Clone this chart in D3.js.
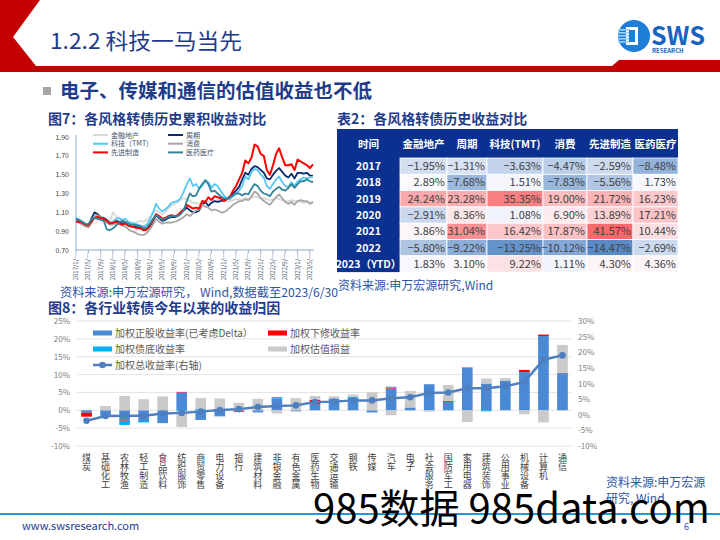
<!DOCTYPE html>
<html><head><meta charset="utf-8">
<script src="https://cdn.jsdelivr.net/npm/d3@7"></script>
<style>
body{margin:0;background:#fff}
svg{display:block}
text{font-family:"Noto Sans CJK SC","Noto Sans",sans-serif}
</style>
</head><body>
<svg id="c" width="720" height="540"></svg>
<script>
// ---------- Figure 7 data (monthly, 2017/1 .. 2023/6) ----------
const axisMonthLabels = ["2017/1/…","2017/5/…","2017/9/…","2018/1/…","2018/5/…","2018/9/…","2019/1/…","2019/5/…","2019/9/…","2020/1/…","2020/5/…","2020/9/…","2021/1/…","2021/5/…","2021/9/…","2022/1/…","2022/5/…","2022/9/…","2023/1/…","2023/5/…"];
const lineYTicks = [0.70,0.90,1.10,1.30,1.50,1.70,1.90];
const styleNames = ["金融地产","周期","科技（TMT）","消费","先进制造","医药医疗"];
const financeRE = [1.02,1.00,0.98,0.96,0.95,1.00,1.06,1.09,1.05,1.03,1.01,1.00,1.10,1.06,1.02,1.00,0.99,0.96,0.97,0.98,1.00,1.01,1.00,1.02,1.05,1.09,1.12,1.10,1.08,1.10,1.14,1.17,1.19,1.21,1.23,1.25,1.24,1.22,1.20,1.20,1.19,1.20,1.22,1.21,1.20,1.22,1.23,1.24,1.23,1.22,1.22,1.23,1.24,1.24,1.23,1.25,1.24,1.25,1.27,1.26,1.25,1.25,1.24,1.23,1.24,1.25,1.24,1.23,1.22,1.22,1.23,1.22,1.22,1.21,1.20,1.21,1.20,1.21];
const cyclical = [1.03,1.01,0.99,0.97,0.96,1.03,1.10,1.08,1.05,1.04,1.02,0.99,0.98,1.01,1.00,0.98,0.99,0.96,0.95,0.95,0.94,0.93,0.91,0.92,0.95,1.01,1.07,1.04,1.01,1.02,1.04,1.05,1.05,1.06,1.09,1.12,1.15,1.12,1.10,1.10,1.12,1.18,1.21,1.17,1.20,1.22,1.21,1.22,1.23,1.24,1.27,1.30,1.33,1.37,1.45,1.52,1.50,1.56,1.59,1.58,1.55,1.52,1.46,1.45,1.50,1.54,1.57,1.53,1.49,1.47,1.51,1.46,1.52,1.52,1.51,1.52,1.49,1.49];
const techTMT = [1.04,1.02,1.00,0.98,0.97,1.01,1.06,1.05,1.05,1.03,1.01,0.99,1.00,1.03,1.04,1.02,1.03,1.00,0.99,0.98,0.97,0.96,0.95,0.97,1.02,1.10,1.19,1.14,1.11,1.13,1.16,1.20,1.21,1.22,1.25,1.32,1.40,1.46,1.38,1.40,1.35,1.38,1.44,1.42,1.36,1.40,1.38,1.33,1.28,1.25,1.24,1.27,1.30,1.33,1.38,1.48,1.45,1.53,1.56,1.55,1.50,1.47,1.38,1.35,1.40,1.45,1.48,1.42,1.38,1.37,1.42,1.38,1.43,1.45,1.47,1.46,1.47,1.48];
const consumer = [1.01,0.99,0.97,0.95,0.94,0.99,1.05,1.07,1.04,1.01,0.99,0.97,0.97,0.99,0.98,0.96,0.95,0.92,0.90,0.89,0.87,0.86,0.86,0.88,0.92,0.97,1.03,1.00,0.98,0.99,0.99,0.99,1.00,1.01,1.03,1.05,1.08,1.06,1.09,1.12,1.13,1.18,1.16,1.15,1.12,1.13,1.12,1.10,1.10,1.12,1.15,1.18,1.20,1.22,1.22,1.24,1.23,1.27,1.32,1.30,1.25,1.22,1.20,1.18,1.22,1.26,1.29,1.25,1.21,1.19,1.21,1.18,1.22,1.23,1.22,1.22,1.19,1.21];
const advancedMfg = [1.00,1.00,0.99,0.97,0.96,1.00,1.04,1.05,1.04,1.03,1.01,0.98,0.99,1.00,0.98,0.97,0.98,0.96,0.95,0.94,0.93,0.93,0.91,0.92,0.96,1.02,1.08,1.06,1.03,1.04,1.06,1.07,1.06,1.07,1.10,1.13,1.18,1.16,1.14,1.15,1.14,1.22,1.21,1.26,1.23,1.27,1.26,1.25,1.22,1.24,1.26,1.33,1.38,1.45,1.52,1.65,1.62,1.68,1.82,1.80,1.72,1.70,1.55,1.50,1.60,1.72,1.78,1.68,1.60,1.60,1.61,1.55,1.66,1.64,1.62,1.60,1.57,1.61];
const medical = [1.03,1.02,1.00,0.98,0.97,1.02,1.04,1.03,1.02,1.01,0.92,0.91,0.93,0.96,0.99,1.01,1.00,0.98,0.97,0.97,0.96,0.95,0.93,0.94,0.98,1.03,1.07,1.05,1.02,1.03,1.05,1.06,1.06,1.06,1.08,1.12,1.22,1.30,1.27,1.28,1.35,1.40,1.44,1.40,1.32,1.33,1.30,1.27,1.25,1.24,1.26,1.28,1.30,1.30,1.28,1.30,1.29,1.35,1.40,1.38,1.33,1.30,1.29,1.27,1.32,1.35,1.37,1.34,1.33,1.36,1.40,1.36,1.40,1.43,1.43,1.45,1.43,1.42];

// ---------- Table 2 data ----------
const tableHeaders = ["时间","金融地产","周期","科技(TMT)","消费","先进制造","医药医疗"];
const tableYears = ["2017","2018","2019","2020","2021","2022","2023（YTD）"];
const tFinanceRE = [-1.95,2.89,24.24,-2.91,3.86,-5.80,1.83];
const tCyclical = [-1.31,-7.68,23.28,8.36,31.04,-9.22,3.10];
const tTechTMT = [-3.63,1.51,35.35,1.08,16.42,-13.25,9.22];
const tConsumer = [-4.47,-7.83,19.00,6.90,17.87,-10.12,1.11];
const tAdvancedMfg = [-2.59,-5.56,21.72,13.89,41.57,-14.47,4.30];
const tMedical = [-8.48,1.73,16.23,17.21,10.44,-2.69,4.36];

// ---------- Figure 8 data ----------
const industries = ["煤炭","基础化工","农林牧渔","轻工制造","食品饮料","纺织服饰","商贸零售","电力设备","银行","建筑材料","非银金融","有色金属","医药生物","交通运输","钢铁","传媒","汽车","电子","社会服务","国防军工","家用电器","建筑装饰","公用事业","机械设备","计算机","通信"];
const stockReturn = [-0.7,-1.6,-2.7,-3.0,-3.6,5.0,-2.7,-1.7,-0.1,-0.6,3.3,-0.3,1.7,3.3,3.5,-0.6,6.1,0.8,7.3,2.4,11.9,7.5,8.2,10.7,20.8,10.4];
const revisionReturn = [-1.1,0,-0.2,0,0,0.15,0,0.4,-0.3,0,0,0,1.2,0,0,0,0.2,0,0,0.2,0.1,0,0,0.6,0.4,0.1];
const bondFloorReturn = [0,0,-1.2,-0.4,0,-0.3,0.3,0,0,0,0.4,0,0,0,0.3,0,0.3,0,0,0,0,-0.3,0,0,0,0];
const valuationPnL = [0,1.2,4.0,3.1,3.9,-4.4,3.1,2.9,2.1,3.2,-0.9,3.4,1.1,0.6,0.6,5.0,-1.4,4.6,-0.4,4.5,-3.3,1.4,0.8,-1.1,-3.4,7.8];
const totalReturn = [-1.9,-0.4,-0.3,-0.3,0.4,0.6,1.0,1.5,1.8,2.5,2.8,3.0,4.1,4.2,4.6,4.6,5.3,5.6,7.0,7.1,8.5,8.5,9.1,10.5,17.6,19.0];
const leftTicks = [-10,-5,0,5,10,15,20,25];
const rightTicks = [-10,-5,0,5,10,15,20,25,30];
const barSeriesNames = ["加权正股收益率(已考虑Delta）","加权下修收益率","加权债底收益率","加权估值损益"];
const lineSeriesName = "加权总收益率(右轴)";

const svg = d3.select("#c");
const BLUE_T = "#1F3C8C";
const SRC = "#2E55A6";

// ---------- header ----------
svg.append("path").attr("d","M0,0 L40,0 L13,37 L36,66 L612,66 L619,60 L720,60 L720,72 L0,72 Z").attr("fill","#C40000");
svg.append("text").attr("x",50).attr("y",49).attr("font-size",22).attr("fill",BLUE_T)
  .attr("textLength",192).attr("lengthAdjust","spacingAndGlyphs").text("1.2.2 科技一马当先");
// logo
const lg = svg.append("g");
lg.append("circle").attr("cx",634).attr("cy",36).attr("r",16).attr("fill","#1C7ED6");
lg.append("rect").attr("x",626).attr("y",27).attr("width",12).attr("height",18).attr("fill","#fff");
[29,32,35,38,41].forEach(y=>lg.append("rect").attr("x",618).attr("y",y).attr("width",12).attr("height",1.6).attr("fill","#9FD0F5"));
lg.append("rect").attr("x",629).attr("y",30).attr("width",6).attr("height",12).attr("fill","#1C7ED6");
lg.append("text").attr("x",651).attr("y",45).attr("font-size",25).attr("font-weight","bold").attr("fill","#1565C0").attr("font-family","Liberation Sans, Arial").text("SWS");
lg.append("text").attr("x",652).attr("y",53).attr("font-size",6).attr("font-weight","bold").attr("fill","#1565C0").attr("font-family","Liberation Sans, Arial").text("RESEARCH");

// bullet
svg.append("rect").attr("x",43).attr("y",87).attr("width",8).attr("height",8).attr("fill","#A6A6A6");
svg.append("text").attr("x",60).attr("y",98).attr("font-size",19.5).attr("font-weight","bold").attr("fill",BLUE_T).text("电子、传媒和通信的估值收益也不低");

// titles
svg.append("text").attr("x",48).attr("y",124).attr("font-size",14).attr("font-weight","bold").attr("fill",BLUE_T).text("图7：各风格转债历史累积收益对比");
svg.append("text").attr("x",337).attr("y",124).attr("font-size",14).attr("font-weight","bold").attr("fill",BLUE_T).text("表2：各风格转债历史收益对比");

// ---------- Figure 7: line chart ----------
const nM = financeRE.length;
const xL = d3.scaleLinear().domain([0, nM-1]).range([76, 313]);
const yL = d3.scaleLinear().domain([0.70, 1.90]).range([250, 137]);
const axisCol = "#8FAADC";
const g7 = svg.append("g");
g7.append("line").attr("x1",76).attr("x2",76).attr("y1",135).attr("y2",250).attr("stroke",axisCol);
g7.append("line").attr("x1",76).attr("x2",314).attr("y1",250).attr("y2",250).attr("stroke",axisCol);
lineYTicks.forEach(v=>{
  g7.append("text").attr("x",69).attr("y",yL(v)+2.5).attr("text-anchor","end").attr("font-size",7).attr("fill","#404040").attr("font-family","Liberation Sans, Arial").text(d3.format(".2f")(v));
});
axisMonthLabels.forEach((lab,i)=>{
  const xx = xL(i*4);
  g7.append("line").attr("x1",xx).attr("x2",xx).attr("y1",250).attr("y2",253).attr("stroke",axisCol);
  g7.append("text").attr("transform",`translate(${xx+2},253) rotate(-90)`).attr("text-anchor","end").attr("font-size",6).attr("fill","#44546A").attr("font-family","Liberation Sans, Arial").text(lab);
});
const lineSeries = [
  {name:styleNames[0], data:financeRE, color:"#D9D9D9", w:1.8},
  {name:styleNames[1], data:cyclical, color:"#0D2A6B", w:1.8},
  {name:styleNames[2], data:techTMT, color:"#55C8F5", w:1.8},
  {name:styleNames[3], data:consumer, color:"#A6A6A6", w:1.8},
  {name:styleNames[4], data:advancedMfg, color:"#FF0000", w:2},
  {name:styleNames[5], data:medical, color:"#31849B", w:1.8}
];
const lineGen = d3.line().x((d,i)=>xL(i)).y(d=>yL(d));
lineSeries.forEach(s=>{
  g7.append("path").attr("d",lineGen(s.data)).attr("fill","none").attr("stroke",s.color).attr("stroke-width",s.w).attr("stroke-linejoin","round");
});
lineSeries.forEach((s,i)=>{
  const col = i%2, row = Math.floor(i/2);
  const lx = col===0 ? 93 : 168, ly = 135 + row*8.7;
  g7.append("line").attr("x1",lx).attr("x2",lx+15).attr("y1",ly).attr("y2",ly).attr("stroke",s.color).attr("stroke-width",2);
  g7.append("text").attr("x",lx+18).attr("y",ly+2.5).attr("font-size",7).attr("fill","#44546A").text(s.name);
});
svg.append("text").attr("x",60).attr("y",297).attr("font-size",12.3).attr("fill",SRC)
  .attr("textLength",278).attr("lengthAdjust","spacingAndGlyphs").text("资料来源:申万宏源研究， Wind,数据截至2023/6/30");

// ---------- Table 2 ----------
const tCols = [tFinanceRE,tCyclical,tTechTMT,tConsumer,tAdvancedMfg,tMedical];
const colEdges = [337,400,447,487,543,587,633,678];
const hdrTop = 129, hdrH = 29, rowH = 16.3;
const allVals = tCols.flat();
const heat = d3.scaleLinear().domain([d3.min(allVals), d3.median(allVals), d3.max(allVals)]).range(["#5A8AC6","#FCFCFF","#F8696B"]);
const gt = svg.append("g");
const NAVY = "#0A3190";
gt.append("rect").attr("x",337).attr("y",hdrTop).attr("width",341).attr("height",hdrH).attr("fill",NAVY);
gt.append("rect").attr("x",337).attr("y",hdrTop+hdrH).attr("width",63).attr("height",rowH*tableYears.length).attr("fill",NAVY);
tableHeaders.forEach((h,i)=>{
  gt.append("text").attr("x",(colEdges[i]+colEdges[i+1])/2).attr("y",hdrTop+hdrH/2+4).attr("text-anchor","middle").attr("font-size",10.5).attr("font-weight","bold").attr("fill","#fff").text(h);
});
tableYears.forEach((yr,r)=>{
  const y0 = hdrTop+hdrH+r*rowH;
  gt.append("text").attr("x",368.5).attr("y",y0+rowH/2+4).attr("text-anchor","middle").attr("font-size",10.5).attr("font-weight","bold").attr("fill","#fff").text(yr);
  tCols.forEach((col,c)=>{
    const v = col[r];
    gt.append("rect").attr("x",colEdges[c+1]).attr("y",y0).attr("width",colEdges[c+2]-colEdges[c+1]).attr("height",rowH).attr("fill",heat(v)).attr("stroke","#fff").attr("stroke-width",0.8);
    gt.append("text").attr("x",colEdges[c+2]-2).attr("y",y0+rowH/2+4).attr("text-anchor","end").attr("font-size",11).attr("fill","#404040").attr("font-family","Noto Sans, sans-serif").text(d3.format(".2f")(v)+"%");
  });
});
svg.append("text").attr("x",338).attr("y",290).attr("font-size",12).attr("fill",SRC).text("资料来源:申万宏源研究,Wind");

// ---------- Figure 8 ----------
svg.append("text").attr("x",48).attr("y",313).attr("font-size",14).attr("font-weight","bold").attr("fill",BLUE_T).text("图8：各行业转债今年以来的收益归因");
const xB = d3.scaleBand().domain(industries).range([77,572]).paddingInner(0.44).paddingOuter(0.22);
const yB = d3.scaleLinear().domain([-10,25]).range([446,321]);
const yR = d3.scaleLinear().domain([-10,30]).range([446,321]);
const g8 = svg.append("g");
leftTicks.forEach(v=>{
  g8.append("line").attr("x1",77).attr("x2",571).attr("y1",yB(v)).attr("y2",yB(v)).attr("stroke","#E3E3E3").attr("stroke-width",1);
  g8.append("text").attr("x",70).attr("y",yB(v)+3).attr("text-anchor","end").attr("font-size",8).attr("fill","#808080").attr("font-family","Liberation Sans, Arial").text(v+"%");
});
rightTicks.forEach(v=>{
  g8.append("text").attr("x",578).attr("y",yR(v)+3).attr("text-anchor","start").attr("font-size",8).attr("fill","#808080").attr("font-family","Liberation Sans, Arial").text(v+"%");
});
const barSeries = [stockReturn, revisionReturn, bondFloorReturn, valuationPnL];
const barColors = ["#4A89D6","#FF0000","#00B0F0","#CACACA"];
industries.forEach((name,i)=>{
  let pos=0, neg=0;
  barSeries.forEach((s,k)=>{
    const v = s[i];
    if (!v) return;
    let y0,y1;
    if (v>0){ y0=pos; y1=pos+v; pos=y1; } else { y0=neg; y1=neg+v; neg=y1; }
    g8.append("rect").attr("x",xB(name)).attr("width",xB.bandwidth())
      .attr("y",yB(Math.max(y0,y1))).attr("height",Math.abs(yB(y0)-yB(y1))).attr("fill",barColors[k]);
  });
  g8.append("text").attr("x",xB(name)+xB.bandwidth()/2).attr("y",453)
    .attr("style","writing-mode:vertical-rl;text-orientation:upright")
    .attr("font-size",9).attr("fill","#404040").text(name);
});
const lineB = d3.line().x((d,i)=>xB(industries[i])+xB.bandwidth()/2).y(d=>yR(d));
g8.append("path").attr("d",lineB(totalReturn)).attr("fill","none").attr("stroke","#4F7FC0").attr("stroke-width",2.5);
totalReturn.forEach((v,i)=>{
  g8.append("circle").attr("cx",xB(industries[i])+xB.bandwidth()/2).attr("cy",yR(v)).attr("r",3.3).attr("fill","#4F7FC0");
});
// legend
const legPos = [[93,333],[268,333],[93,349],[268,349]];
barSeriesNames.forEach((n,k)=>{
  const [lx,ly] = legPos[k];
  g8.append("rect").attr("x",lx).attr("y",ly-2.5).attr("width",19).attr("height",5).attr("fill",barColors[k]);
  g8.append("text").attr("x",lx+22).attr("y",ly+3.5).attr("font-size",10).attr("fill","#595959").text(n);
});
g8.append("line").attr("x1",93).attr("x2",112).attr("y1",365).attr("y2",365).attr("stroke","#4F7FC0").attr("stroke-width",2.5);
g8.append("circle").attr("cx",102.5).attr("cy",365).attr("r",3.3).attr("fill","#4F7FC0");
g8.append("text").attr("x",115).attr("y",368.5).attr("font-size",10).attr("fill","#595959").text(lineSeriesName);

svg.append("text").attr("x",606).attr("y",487).attr("font-size",12).attr("fill",SRC).text("资料来源:申万宏源");
svg.append("text").attr("x",606).attr("y",503).attr("font-size",12).attr("fill",SRC).text("研究, Wind");

// ---------- footer ----------
svg.append("line").attr("x1",0).attr("x2",720).attr("y1",514).attr("y2",514).attr("stroke","#1E9BD7").attr("stroke-width",2);
svg.append("text").attr("x",22).attr("y",530).attr("font-size",11).attr("fill","#1F3C8C").attr("font-family","Liberation Sans, Arial").text("www.swsresearch.com");
svg.append("text").attr("x",684).attr("y",530).attr("font-size",9).attr("fill","#2E55A6").attr("font-family","Liberation Sans, Arial").text("6");
svg.append("text").attr("x",313).attr("y",523).attr("font-size",40).attr("fill","#000").attr("font-family","Liberation Sans, Arial").text("985数据 985data.com");
</script>
</body></html>
